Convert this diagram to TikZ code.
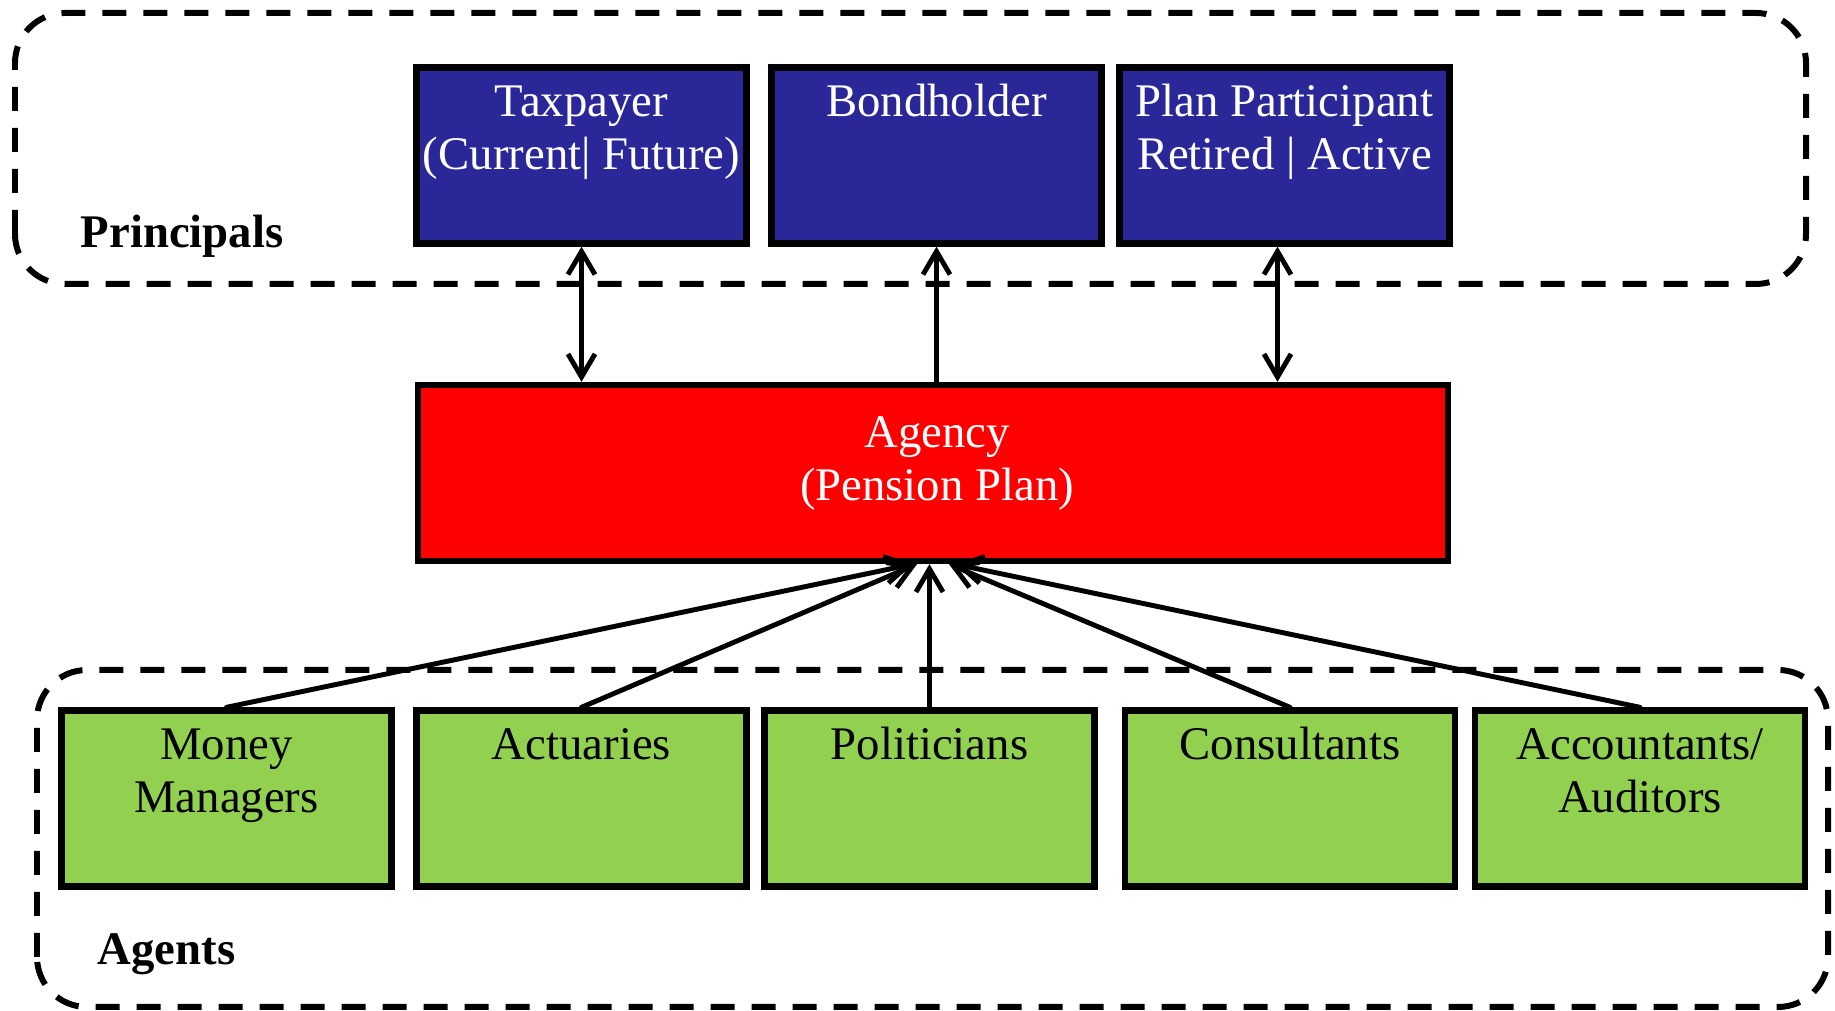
\documentclass[tikz,border=0pt]{standalone}
\usepackage{fontspec}
\setmainfont{Liberation Serif}
\usepackage{tikz}
\usetikzlibrary{arrows.meta,positioning}
\definecolor{principalblue}{HTML}{2A2899}
\definecolor{agencyred}{HTML}{FF0000}
\definecolor{agentgreen}{HTML}{92D050}
% text lines hung from the top of a box
\newcommand{\boxlines}[2][1.51cm]{\parbox[c][#1][t]{3.3cm}{\centering\strut #2}}
\tikzset{
  actor/.style={draw=black, line width=1.8pt, minimum width=3.28cm, minimum height=1.76cm, inner sep=0pt},
  principal/.style={actor, fill=principalblue, text=white},
  agent/.style={actor, fill=agentgreen, text=black},
  groupline/.style={line width=1.7pt, dash pattern=on 2.4mm off 1.7mm, rounded corners=0.5cm},
  grouplabel/.style={font=\fontsize{13.3}{15}\selectfont\bfseries, anchor=base west, inner sep=0pt},
  link/.style={line width=1.4pt, line cap=round}
}

\begin{document}
\begin{tikzpicture}[every node/.style={font=\fontsize{13.3}{15}\selectfont},
  >={Straight Barb[length=2.3mm,width=2.7mm]}]
  \useasboundingbox (0,0) rectangle (18.35,10.11);

  % groups
  \draw[groupline] (0.15,7.27) rectangle (18.06,9.98);
  \draw[groupline] (0.37,0.04) rectangle (18.28,3.41);
  \node[grouplabel] (principals) at (0.80,7.63) {Principals};
  \node[grouplabel] (agents) at (0.97,0.46) {Agents};

  % principals
  \node[principal] (tax) at (5.815,8.555) {\boxlines{Taxpayer\\(Current| Future)}};
  \node[principal] (bond) at (9.365,8.555) {\boxlines{Bondholder}};
  \node[principal] (plan) at (12.845,8.555) {\boxlines{Plan Participant\\Retired | Active}};

  % agency
  \node[actor, fill=agencyred, text=white, minimum width=10.30cm] (agency) at (9.33,5.38)
    {\boxlines[1.24cm]{\hspace*{0.08cm}Agency\\\hspace*{0.08cm}(Pension Plan)}};

  % agents
  \node[agent] (money) at (2.265,2.125) {\boxlines{Money\\Managers}};
  \node[agent] (actuaries) at (5.815,2.125) {\boxlines{Actuaries}};
  \node[agent] (politicians) at (9.295,2.125) {\boxlines{Politicians}};
  \node[agent] (consultants) at (12.90,2.125) {\boxlines{Consultants}};
  \node[agent] (accountants) at (16.40,2.125) {\boxlines{Accountants/\\Auditors}};

  % principals <-> agency
  \draw[link,<->] (tax.south) -- (tax.south |- agency.north);
  \draw[link,->] (bond.south |- agency.north) -- (bond.south);
  \draw[link,<->] ([xshift=-0.7mm]plan.south) -- ([xshift=-0.7mm]plan.south |- agency.north);

  % agents -> agency
  \draw[link,->] (money.north) -- ([xshift=-2mm]agency.south);
  \draw[link,->] (actuaries.north) -- ([xshift=-1.6mm]agency.south);
  \draw[link,->] (politicians.north) -- (politicians.north |- agency.south);
  \draw[link,->] (consultants.north) -- ([xshift=1.6mm]agency.south);
  \draw[link,->] (accountants.north) -- ([xshift=2.2mm]agency.south);
\end{tikzpicture}
\end{document}
